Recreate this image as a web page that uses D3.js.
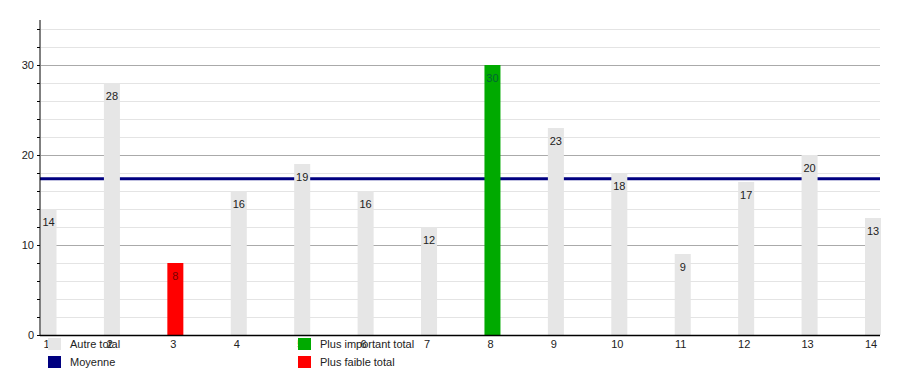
<!DOCTYPE html>
<html>
<head>
<meta charset="utf-8">
<script src="https://cdn.jsdelivr.net/npm/d3@7"></script>
<style>
  body { margin: 0; background: #fff; }
  svg { display: block; font-family: "Liberation Sans", Arial, sans-serif; }
</style>
</head>
<body>
<div id="chart"></div>
<script>
var categories = ["1", "2", "3", "4", "5", "6", "7", "8", "9", "10", "11", "12", "13", "14"];
var totals = [14, 28, 8, 16, 19, 16, 12, 30, 23, 18, 9, 17, 20, 13];
var yTicks = [0, 10, 20, 30];
var legendLabels = ["Autre total", "Moyenne", "Plus important total", "Plus faible total"];

var width = 900, height = 375;
var plotLeft = 40, plotRight = 880, plotTop = 20, plotBottom = 335;

var colorOther = "#e6e6e6", colorMax = "#00aa00", colorMin = "#ff0000", colorMean = "#000080";

var svg = d3.select("#chart").append("svg")
    .attr("width", width).attr("height", height);

var y = d3.scaleLinear().domain([0, 35]).range([plotBottom, plotTop]);
var x = d3.scalePoint().domain(categories).range([48.5, 873]);
var barW = 16;

var maxV = d3.max(totals), minV = d3.min(totals);
var mean = d3.mean(totals);

// grid lines every 2 units, darker every 10
var grid = d3.range(2, 35, 2);
svg.selectAll("line.grid").data(grid).enter().append("line")
    .attr("x1", plotLeft + 1).attr("x2", plotRight)
    .attr("y1", d => Math.round(y(d)) + 0.5).attr("y2", d => Math.round(y(d)) + 0.5)
    .attr("stroke", d => d % 10 == 0 ? "#aaaaaa" : "#e4e4e4")
    .attr("stroke-width", 1);

// mean line (drawn under the bars)
svg.append("line")
    .attr("x1", plotLeft).attr("x2", plotRight)
    .attr("y1", y(mean)).attr("y2", y(mean))
    .attr("stroke", colorMean).attr("stroke-width", 3);

var color = function(v) {
    if (v == maxV) return colorMax;
    if (v == minV) return colorMin;
    return colorOther;
};

svg.selectAll("rect.bar").data(totals).enter().append("rect")
    .attr("x", (d, i) => Math.max(plotLeft + 1, x(categories[i]) - barW / 2))
    .attr("y", d => y(d))
    .attr("width", (d, i) => x(categories[i]) + barW / 2 - Math.max(plotLeft + 1, x(categories[i]) - barW / 2))
    .attr("height", d => y(0) - y(d))
    .attr("fill", d => color(d));

svg.selectAll("text.val").data(totals).enter().append("text")
    .attr("x", (d, i) => x(categories[i]))
    .attr("y", d => y(d) + 17)
    .attr("text-anchor", "middle")
    .attr("font-size", 11)
    .attr("fill", d => d == minV ? "#7a0000" : (d == maxV ? "#063" : "#222"))
    .text(d => d);

// y axis
var yAxis = svg.append("g").attr("transform", "translate(" + plotLeft + ",0)")
    .call(d3.axisLeft(y).tickValues(d3.range(0, 35, 2)).tickSize(3).tickFormat(d => yTicks.includes(d) ? d : ""));
yAxis.select(".domain").attr("d", "M0," + plotTop + "V" + plotBottom).attr("stroke", "#000");
yAxis.selectAll(".tick line").attr("stroke", "#000");
yAxis.selectAll(".tick text").attr("font-size", 11).attr("fill", "#222")
    .attr("font-family", "Liberation Sans, Arial, sans-serif").attr("x", -6);

// x axis
svg.append("line")
    .attr("x1", plotLeft).attr("x2", plotRight)
    .attr("y1", plotBottom + 0.5).attr("y2", plotBottom + 0.5)
    .attr("stroke", "#000").attr("stroke-width", 1.5);

svg.selectAll("text.xl").data(categories).enter().append("text")
    .attr("x", d => x(d) - 2)
    .attr("y", plotBottom + 13)
    .attr("text-anchor", "middle")
    .attr("font-size", 11)
    .attr("fill", "#222")
    .text(d => d);

// legend
var legendColors = [colorOther, colorMean, colorMax, colorMin];
var lg = svg.selectAll("g.lg").data(legendLabels).enter().append("g")
    .attr("transform", (d, i) => "translate(" + (i < 2 ? 48 : 298) + "," + (i % 2 == 0 ? 338 : 356) + ")");
lg.append("rect").attr("width", 13).attr("height", 12)
    .attr("fill", (d, i) => legendColors[i]);
lg.append("text").attr("x", 22).attr("y", 10)
    .attr("font-size", 11).attr("fill", "#222")
    .text(d => d);
</script>
</body>
</html>
